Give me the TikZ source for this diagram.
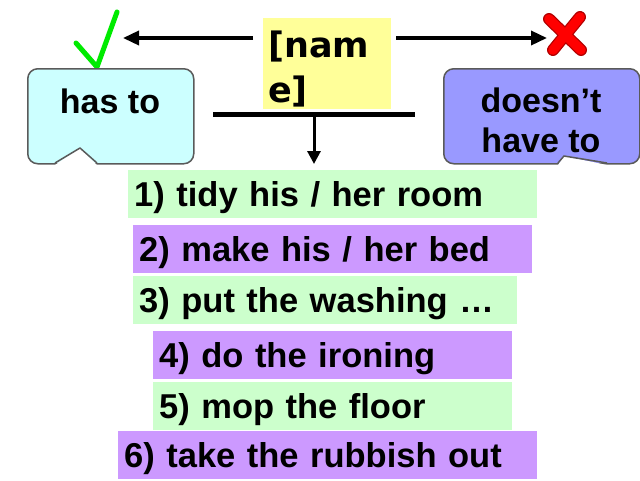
\documentclass[tikz,border=0pt]{standalone}
\usepackage{fontspec}
\setmainfont{Liberation Sans}
\newfontfamily\namefont{DejaVu Sans}
\usetikzlibrary{arrows.meta,positioning}

\begin{document}
\begin{tikzpicture}[x=1pt, y=-1pt,
    arr/.style={line width=3.5pt, -{Triangle[length=16pt, width=14pt]}},
    bubble/.style={draw=bubbleline, line width=1.5pt, rounded corners=10pt, anchor=north west},
    lbl/.style={font=\fontsize{34}{40}\selectfont\bfseries, inner sep=0pt, align=center},
    item/.style={anchor=north west, minimum height=48pt, inner xsep=6pt, inner ysep=0pt,
        text height=30pt, text depth=5pt, align=left, font=\fontsize{34.5}{40}\selectfont\bfseries}]
    % Colori
    \definecolor{hascol}{RGB}{204,255,255}
    \definecolor{notcol}{RGB}{153,153,255}
    \definecolor{namecol}{RGB}{255,255,153}
    \definecolor{yescol}{RGB}{204,255,204}
    \definecolor{chorecol}{RGB}{204,153,255}
    \definecolor{bubbleline}{RGB}{90,90,90}
    \definecolor{tick}{RGB}{0,235,0}

    \useasboundingbox (0,0) rectangle (640,480);

    % Nome al centro
    \node[fill=namecol, anchor=north west, minimum width=128pt, minimum height=91pt, inner sep=0pt] (name) at (263,18) {};
    \node[anchor=north west, inner sep=0pt, align=left, font=\namefont\fontsize{35}{45}\selectfont\bfseries]
        (namelbl) at (268,31) {[nam\\e]};

    % Segno di spunta e croce
    \draw[tick, line width=5pt, line cap=round, line join=round] (76,43) -- (97,67) -- (117,12);
    \draw[red!70!black, line width=12pt, line cap=round] (549,19) -- (581,50) (580,17) -- (553,50);
    \draw[red, line width=9.5pt, line cap=round] (549,19) -- (581,50) (580,17) -- (553,50);
    \coordinate (yes) at (123,38);
    \coordinate (no) at (547,38);

    % Frecce
    \draw[arr] ([xshift=-10pt, yshift=-20pt]name.north west) -- (yes);
    \draw[arr] ([xshift=5pt, yshift=-20pt]name.north east) -- (no);

    % Fumetti
    \node[bubble, fill=hascol, minimum width=166pt, minimum height=95pt] (has) at (27,68) {};
    \fill[white] (55,165) -- (80,148) -- (97,165) -- cycle;
    \draw[draw=bubbleline, line width=1.5pt, line join=round] (55,163) -- (80,148) -- (97,163);
    \node[lbl, anchor=base] (haslbl) at (110,113) {has to};

    \node[bubble, fill=notcol, minimum width=196pt, minimum height=95pt] (not) at (443,68) {};
    \fill[white] (558,165) -- (564,156) -- (607,165) -- cycle;
    \draw[draw=bubbleline, line width=1.5pt, line join=round] (558,163) -- (564,156) -- (607,163);
    \node[lbl, anchor=north] (notlbl) at (541,88) {doesn’t\\have to};

    % Barra e freccia verso il basso
    \coordinate (barl) at (213,114);
    \coordinate (barr) at (415,114);
    \coordinate (bar) at (314,114);
    \draw[line width=5pt] (barl) -- (barr);

    % Lavori di casa
    \node[item, fill=yescol, text width=397pt] (t1) at (128,170) {1) tidy his / her room};
    \node[item, fill=chorecol, text width=387pt] (t2) at (133,225) {2) make his / her bed};
    \node[item, fill=yescol, text width=372pt] (t3) at (133,276) {3) put the washing …};
    \node[item, fill=chorecol, text width=347pt] (t4) at (153,331) {4) do the ironing};
    \node[item, fill=yescol, text width=347pt] (t5) at (153,382) {5) mop the floor};
    \node[item, fill=chorecol, text width=407pt] (t6) at (118,431) {6) take the rubbish out};

    \draw[line width=3pt, -{Triangle[length=13pt, width=13pt]}, shorten >=6pt] (bar) -- (bar |- t1.north);
\end{tikzpicture}
\end{document}
